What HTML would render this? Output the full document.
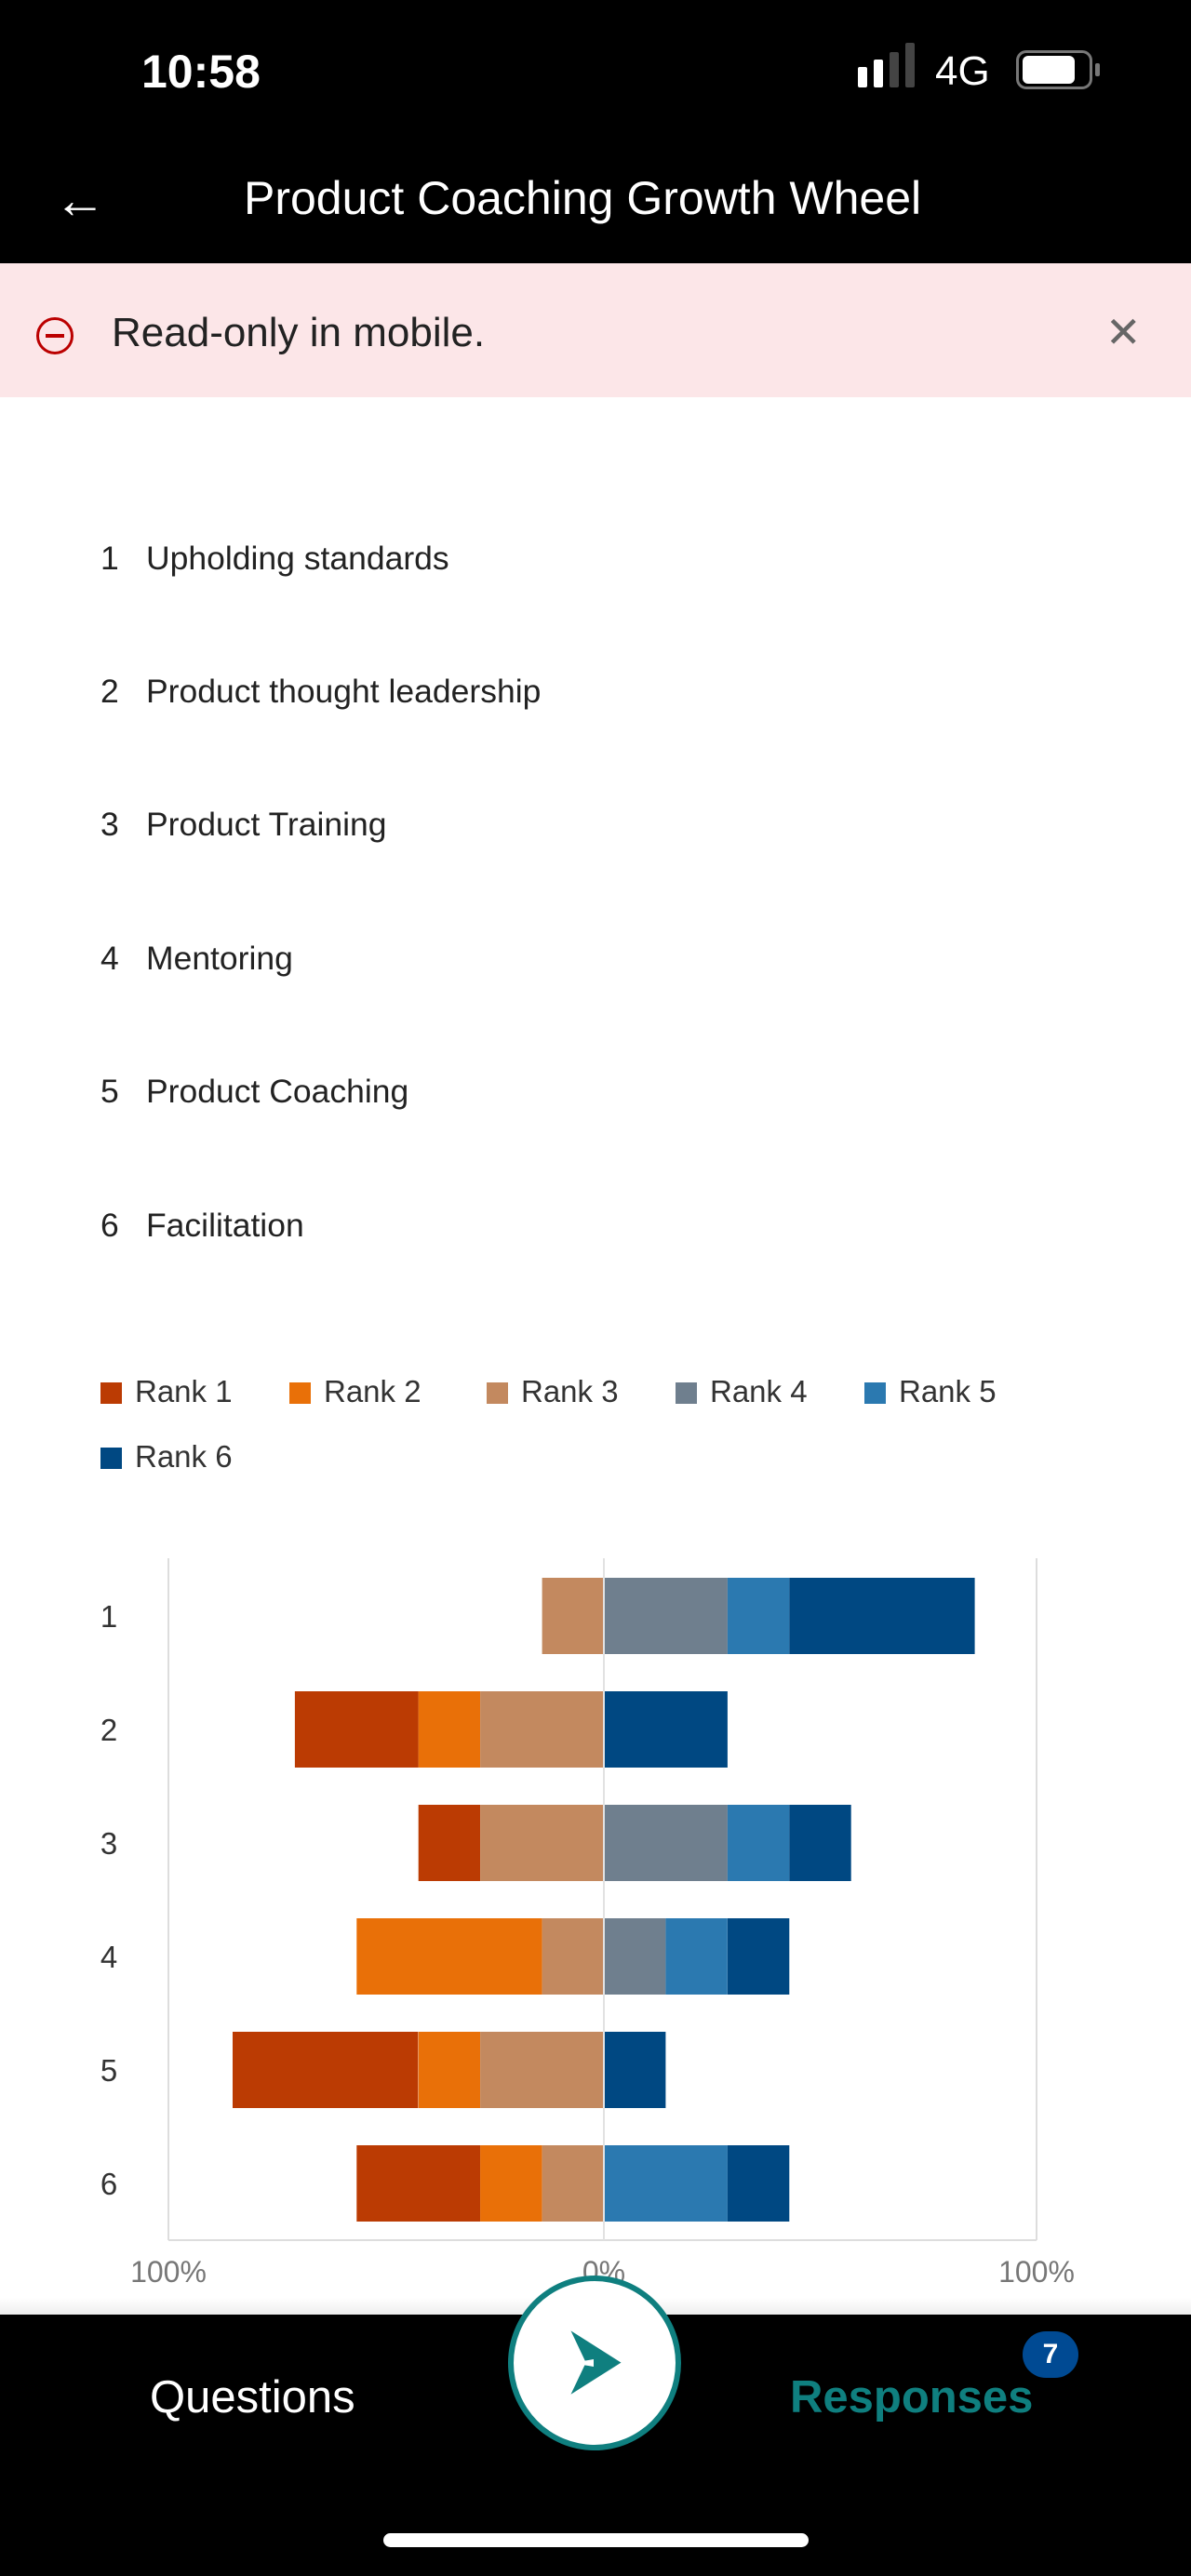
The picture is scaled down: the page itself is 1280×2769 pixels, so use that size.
<!DOCTYPE html>
<html><head><meta charset="utf-8"><style>
*{margin:0;padding:0;box-sizing:border-box}
body{width:1280px;height:2769px;background:#fff;position:relative;overflow:hidden;font-family:"Liberation Sans",sans-serif}
.a{position:absolute}
.li{position:absolute;left:108px;font-size:35.5px;color:#222}
.li span{position:absolute;left:49px;white-space:nowrap}
.lg{position:absolute;font-size:33px;color:#333;white-space:nowrap}
.lg i{display:inline-block;width:23px;height:23px;margin-right:14px;vertical-align:-2px}
</style></head><body>
<div class="a" style="left:0;top:0;width:1280px;height:283px;background:#000"></div>
<div class="a" style="left:152px;top:48px;color:#fff;font-size:50px;font-weight:bold">10:58</div>
<div class="a" style="left:922px;top:72px;width:10px;height:22px;background:#fff;border-radius:2px"></div>
<div class="a" style="left:939px;top:64px;width:10px;height:30px;background:#fff;border-radius:2px"></div>
<div class="a" style="left:956px;top:56px;width:10px;height:38px;background:#444;border-radius:2px"></div>
<div class="a" style="left:973px;top:46px;width:10px;height:48px;background:#444;border-radius:2px"></div>
<div class="a" style="left:1005px;top:52px;color:#fff;font-size:44px">4G</div>
<div class="a" style="left:1092px;top:54px;width:82px;height:42px;border:3px solid #777;border-radius:11px"></div>
<div class="a" style="left:1099px;top:60px;width:56px;height:30px;background:#fff;border-radius:6px"></div>
<div class="a" style="left:1177px;top:68px;width:5px;height:14px;background:#777;border-radius:2px"></div>
<div class="a" style="left:58px;top:182px;color:#fff;font-size:56px">←</div>
<div class="a" style="left:262px;top:184px;color:#fff;font-size:50px">Product Coaching Growth Wheel</div>
<div class="a" style="left:0;top:283px;width:1280px;height:144px;background:#fce6e8"></div>
<div class="a" style="left:39px;top:341px;width:40px;height:40px;border:3px solid #b00;border-radius:50%"></div>
<div class="a" style="left:49px;top:359px;width:20px;height:4px;background:#b00"></div>
<div class="a" style="left:120px;top:333px;font-size:44px;color:#222">Read-only in mobile.</div>
<div class="a" style="left:1188px;top:330px;font-size:46px;color:#666">✕</div>

<div class="li" style="top:580px">1<span>Upholding standards</span></div>
<div class="li" style="top:723px">2<span>Product thought leadership</span></div>
<div class="li" style="top:866px">3<span>Product Training</span></div>
<div class="li" style="top:1010px">4<span>Mentoring</span></div>
<div class="li" style="top:1153px">5<span>Product Coaching</span></div>
<div class="li" style="top:1297px">6<span>Facilitation</span></div>

<div class="lg" style="left:108px;top:1477px"><i style="background:#bb3b03"></i>Rank 1</div>
<div class="lg" style="left:311px;top:1477px"><i style="background:#e97008"></i>Rank 2</div>
<div class="lg" style="left:523px;top:1477px"><i style="background:#c3895f"></i>Rank 3</div>
<div class="lg" style="left:726px;top:1477px"><i style="background:#6f7f8e"></i>Rank 4</div>
<div class="lg" style="left:929px;top:1477px"><i style="background:#2b79b0"></i>Rank 5</div>
<div class="lg" style="left:108px;top:1547px"><i style="background:#004882"></i>Rank 6</div>

<svg class="a" style="left:0;top:0" width="1280" height="2769">
<g stroke="#ddd" stroke-width="2"><line x1="181" y1="1675" x2="181" y2="2408"/><line x1="1114" y1="1675" x2="1114" y2="2408"/><line x1="181" y1="2408" x2="1114" y2="2408"/></g>
<g>
<rect x="582.6" y="1696" width="66.4" height="82" fill="#c3895f"/>
<rect x="649" y="1696" width="132.9" height="82" fill="#6f7f8e"/><rect x="781.9" y="1696" width="66.4" height="82" fill="#2b79b0"/><rect x="848.3" y="1696" width="199.3" height="82" fill="#004882"/>

<rect x="316.9" y="1818" width="132.9" height="82" fill="#bb3b03"/><rect x="449.7" y="1818" width="66.4" height="82" fill="#e97008"/><rect x="516.1" y="1818" width="132.9" height="82" fill="#c3895f"/>
<rect x="649" y="1818" width="132.9" height="82" fill="#004882"/>

<rect x="449.7" y="1940" width="66.4" height="82" fill="#bb3b03"/><rect x="516.1" y="1940" width="132.9" height="82" fill="#c3895f"/>
<rect x="649" y="1940" width="132.9" height="82" fill="#6f7f8e"/><rect x="781.9" y="1940" width="66.4" height="82" fill="#2b79b0"/><rect x="848.3" y="1940" width="66.4" height="82" fill="#004882"/>

<rect x="383.3" y="2062" width="199.3" height="82" fill="#e97008"/><rect x="582.6" y="2062" width="66.4" height="82" fill="#c3895f"/>
<rect x="649" y="2062" width="66.4" height="82" fill="#6f7f8e"/><rect x="715.4" y="2062" width="66.4" height="82" fill="#2b79b0"/><rect x="781.9" y="2062" width="66.4" height="82" fill="#004882"/>

<rect x="250" y="2184" width="199.3" height="82" fill="#bb3b03"/><rect x="449.7" y="2184" width="66.4" height="82" fill="#e97008"/><rect x="516.1" y="2184" width="132.9" height="82" fill="#c3895f"/>
<rect x="649" y="2184" width="66.4" height="82" fill="#004882"/>

<rect x="383.3" y="2306" width="132.9" height="82" fill="#bb3b03"/><rect x="516.1" y="2306" width="66.4" height="82" fill="#e97008"/><rect x="582.6" y="2306" width="66.4" height="82" fill="#c3895f"/>
<rect x="649" y="2306" width="132.9" height="82" fill="#2b79b0"/><rect x="781.9" y="2306" width="66.4" height="82" fill="#004882"/>
</g>
<line x1="649" y1="1675" x2="649" y2="2408" stroke="#e2e2e2" stroke-width="2"/>
<g font-family="Liberation Sans" font-size="33" fill="#333" text-anchor="middle">
<text x="117" y="1749">1</text><text x="117" y="1871">2</text><text x="117" y="1993">3</text><text x="117" y="2115">4</text><text x="117" y="2237">5</text><text x="117" y="2359">6</text>
</g>
<g font-family="Liberation Sans" font-size="32" fill="#777" text-anchor="middle">
<text x="181" y="2453">100%</text><text x="649" y="2453">0%</text><text x="1114" y="2453">100%</text>
</g>
</svg>
<div class="a" style="left:0;top:2470px;width:1280px;height:18px;background:linear-gradient(#fff,#eee)"></div>
<div class="a" style="left:0;top:2488px;width:1280px;height:281px;background:#000"></div>
<div class="a" style="left:161px;top:2549px;color:#fff;font-size:49px">Questions</div>
<div class="a" style="left:849px;top:2549px;color:#0f7f7f;font-size:49px;font-weight:bold">Responses</div>
<div class="a" style="left:1099px;top:2506px;width:60px;height:50px;border-radius:25px;background:#004a93;color:#fff;font-size:30px;font-weight:bold;text-align:center;line-height:50px">7</div>
<div class="a" style="left:546px;top:2446px;width:186px;height:188px;border-radius:50%;background:#fff;border:6px solid #0f7f7f"></div>
<svg class="a" style="left:600px;top:2500px" width="80" height="80"><polygon points="10,2 70,40 10,78 28,40" fill="#0f7f7f" transform="scale(0.9) translate(5,4)"/><polygon points="14,40 38,36 38,44" fill="#fff"/></svg>
<div class="a" style="left:412px;top:2723px;width:457px;height:15px;border-radius:8px;background:#fff"></div>
</body></html>
